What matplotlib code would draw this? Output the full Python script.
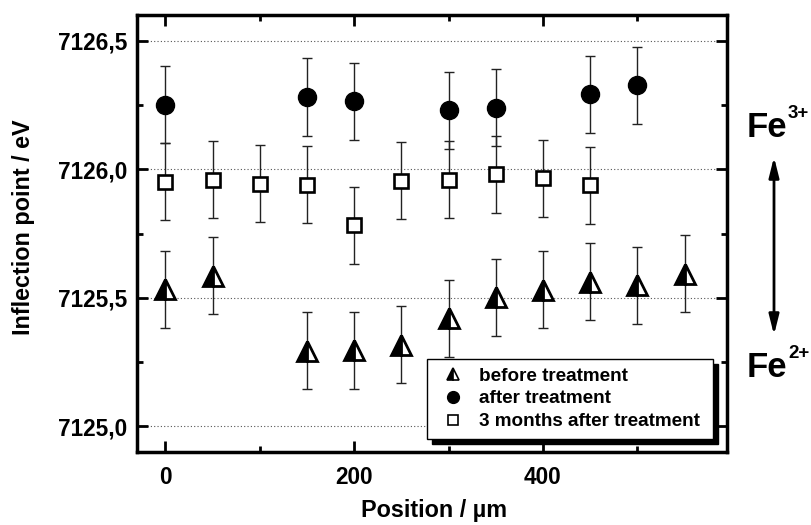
import matplotlib
matplotlib.use('Agg')
import matplotlib.pyplot as plt
from matplotlib.lines import Line2D
from matplotlib.patches import Rectangle, FancyArrowPatch
from matplotlib.transforms import IdentityTransform
from matplotlib.ticker import MultipleLocator, FuncFormatter

# ---- data ----
pos_before = [0, 50, 150, 200, 250, 300, 350, 400, 450, 500, 550]
val_before = [7125.533, 7125.586, 7125.294, 7125.296, 7125.317, 7125.420,
              7125.502, 7125.531, 7125.562, 7125.549, 7125.594]
err_before = [0.15] * len(pos_before)

pos_after = [0, 150, 200, 300, 350, 450, 500]
val_after = [7126.251, 7126.281, 7126.264, 7126.230, 7126.240, 7126.292, 7126.326]
err_after = [0.15] * len(pos_after)

pos_3m = [0, 50, 100, 150, 200, 250, 300, 350, 400, 450]
val_3m = [7125.952, 7125.959, 7125.944, 7125.939, 7125.782, 7125.955,
          7125.959, 7125.981, 7125.964, 7125.937]
err_3m = [0.15] * len(pos_3m)

labels = ['before treatment', 'after treatment', '3 months after treatment']

plt.rcParams['font.family'] = ['Liberation Sans', 'DejaVu Sans']
plt.rcParams['font.weight'] = 'bold'

fig = plt.figure(figsize=(8.11, 5.25), dpi=100)
L, R, T, B = 137, 727, 15, 452
ax = fig.add_axes([L / 811, 1 - B / 525, (R - L) / 811, (B - T) / 525])

ebkw = dict(ls='none', ecolor='#222222', elinewidth=1.0, capsize=3.6, capthick=1.0, zorder=2)
ax.errorbar(pos_before, val_before, yerr=err_before, **ebkw)
ax.errorbar(pos_after, val_after, yerr=err_after, **ebkw)
ax.errorbar(pos_3m, val_3m, yerr=err_3m, **ebkw)

ax.plot(pos_before, val_before, ls='none', marker='^', ms=15, fillstyle='left',
        mfc='black', markerfacecoloralt='white', mec='black', mew=2.0, zorder=3)
ax.plot(pos_after, val_after, ls='none', marker='o', ms=13, mfc='black', mec='black', zorder=3)
ax.plot(pos_3m, val_3m, ls='none', marker='s', ms=10.5, mfc='white', mec='black', mew=1.9, zorder=3)

ax.set_xlim(-30, 595)
ax.set_ylim(7124.9, 7126.6)
ax.xaxis.set_major_locator(MultipleLocator(200))
ax.xaxis.set_minor_locator(MultipleLocator(100))
ax.yaxis.set_major_locator(MultipleLocator(0.5))
ax.yaxis.set_minor_locator(MultipleLocator(0.25))
ax.yaxis.set_major_formatter(FuncFormatter(lambda v, p: f'{v:.1f}'.replace('.', ',')))
ax.xaxis.set_major_formatter(FuncFormatter(lambda v, p: f'{v:.0f}'))

ax.yaxis.grid(True, which='major', linestyle=(0, (1, 2)), color='#555555', lw=0.8)
ax.set_axisbelow(True)

for s in ax.spines.values():
    s.set_linewidth(2.5)
ax.tick_params(which='both', direction='in', top=True, right=True, width=2)
ax.tick_params(which='major', length=8, labelsize=16.3)
ax.tick_params(which='minor', length=4)
ax.tick_params(axis='y', pad=7)
ax.tick_params(axis='x', pad=10)
for lab in ax.get_xticklabels() + ax.get_yticklabels():
    lab.set_fontweight('bold')

ax.set_ylabel('Inflection point / eV', fontsize=16.8, fontweight='bold', va='center')
ax.yaxis.set_label_coords(-0.1924, 0.515)
ax.set_xlabel('Position / µm', fontsize=16.8, fontweight='bold', va='center')
ax.xaxis.set_label_coords(0.504, -0.135)

# legend
h1 = Line2D([], [], ls='none', marker='^', ms=9, fillstyle='left', mfc='black',
            markerfacecoloralt='white', mec='black', mew=1.2)
h2 = Line2D([], [], ls='none', marker='o', ms=8.5, mfc='black', mec='black')
h3 = Line2D([], [], ls='none', marker='s', ms=6.5, mfc='white', mec='black', mew=1.2)
leg = ax.legend([h1, h2, h3], labels, loc='upper left',
                bbox_to_anchor=(427 / 811, 1 - 440 / 525, 286 / 811, 81 / 525),
                bbox_transform=fig.transFigure, mode='expand', borderaxespad=0,
                frameon=True, fancybox=False, edgecolor='black', framealpha=1,
                prop={'family': 'Liberation Sans', 'weight': 'bold', 'size': 13.6},
                handlelength=1.9, handletextpad=0.4, borderpad=0.45, labelspacing=0.29)
leg.get_frame().set_linewidth(1.0)
leg.set_zorder(6)

fig.canvas.draw()
bb = leg.get_window_extent()
shadow = Rectangle((bb.x0 + 5, bb.y0 - 5), bb.width, bb.height, transform=IdentityTransform(),
                   facecolor='black', edgecolor='black', clip_on=False, zorder=5.5)
ax.add_artist(shadow)

# Fe labels and arrow
fig.text(747 / 811, (525 - 137) / 525, 'Fe', fontsize=25, fontweight='bold', va='baseline', ha='left')
fig.text(788 / 811, (525 - 118) / 525, '3+', fontsize=13.5, fontweight='bold', va='baseline', ha='left')
fig.text(747 / 811, (525 - 377) / 525, 'Fe', fontsize=25, fontweight='bold', va='baseline', ha='left')
fig.text(788 / 811, (525 - 358) / 525, '2+', fontsize=13.5, fontweight='bold', va='baseline', ha='left')
fig.add_artist(FancyArrowPatch(
    (774, 525 - 335), (774, 525 - 157), transform=IdentityTransform(),
    arrowstyle='<|-|>,head_length=1.2,head_width=0.3', mutation_scale=10,
    lw=2, color='black', shrinkA=0, shrinkB=0))

fig.savefig('out.png', dpi=100)
